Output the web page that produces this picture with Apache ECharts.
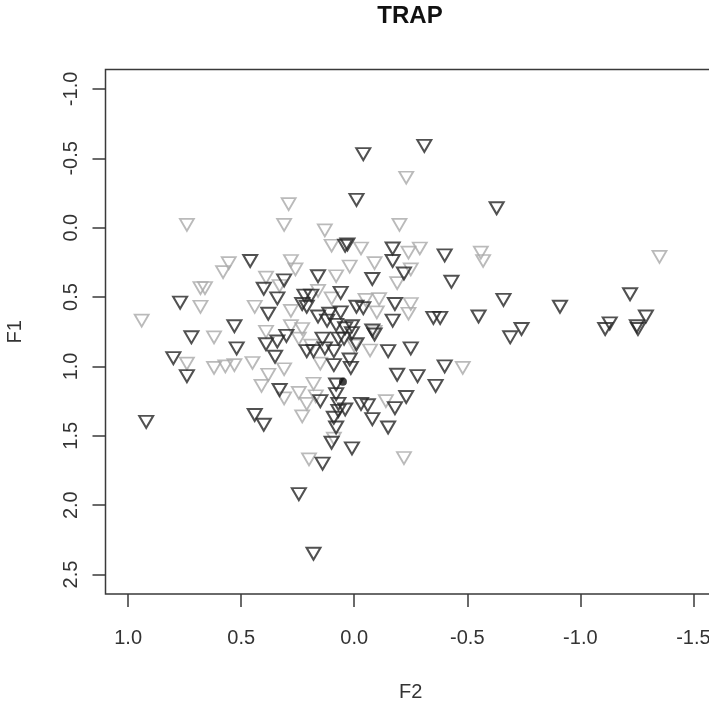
<!DOCTYPE html>
<html>
<head>
<meta charset="utf-8">
<script src="https://cdn.jsdelivr.net/npm/echarts@6/dist/echarts.min.js"></script>
<style>
  html, body { margin: 0; padding: 0; background: #fff; }
  #chart { width: 709px; height: 702px; }
</style>
</head>
<body>
<div id="chart"></div>
<script>
// [F2, F1] pairs
var darkPoints = [
  [-0.31, -0.59], [-0.04, -0.53], [-0.01, -0.20], [-0.63, -0.14], [0.04, 0.13], [0.03, 0.12],
  [-0.17, 0.15], [-0.17, 0.24], [-0.40, 0.20], [0.46, 0.24], [-0.22, 0.33], [0.16, 0.35],
  [0.31, 0.38], [-0.08, 0.37], [-0.43, 0.39], [0.40, 0.44], [0.06, 0.47], [0.34, 0.51],
  [0.22, 0.49], [0.19, 0.49], [-0.18, 0.55], [-0.66, 0.52], [-0.91, 0.57], [-1.22, 0.48],
  [0.77, 0.54], [0.23, 0.55], [0.21, 0.57], [0.38, 0.62], [0.16, 0.64], [0.11, 0.62],
  [0.06, 0.61], [-0.01, 0.57], [-0.04, 0.58], [-0.17, 0.67], [-0.35, 0.65], [-0.38, 0.65],
  [-0.55, 0.64], [-1.13, 0.69], [-1.11, 0.73], [-1.29, 0.64], [-1.25, 0.71], [-1.255, 0.73],
  [-0.74, 0.73], [-0.69, 0.79], [0.53, 0.71], [0.72, 0.79], [0.12, 0.67], [0.08, 0.70],
  [0.01, 0.71], [-0.08, 0.74], [0.04, 0.725], [0.30, 0.78], [0.34, 0.82], [0.39, 0.84],
  [0.52, 0.87], [0.14, 0.80], [0.07, 0.80], [0.01, 0.76], [-0.01, 0.84], [0.21, 0.89],
  [0.18, 0.89], [0.13, 0.87], [0.09, 0.89], [-0.15, 0.89], [-0.25, 0.87], [0.80, 0.94],
  [0.74, 1.07], [0.35, 0.93], [0.09, 0.99], [0.02, 0.95], [0.015, 1.01], [-0.19, 1.06],
  [-0.28, 1.07], [-0.40, 1.00], [-0.36, 1.14], [0.08, 1.13], [0.33, 1.17], [0.08, 1.20],
  [0.15, 1.25], [0.07, 1.27], [0.07, 1.32], [0.04, 1.31], [-0.03, 1.27], [-0.06, 1.28],
  [-0.18, 1.30], [-0.23, 1.22], [-0.08, 1.38], [-0.15, 1.44], [0.09, 1.37], [0.08, 1.44],
  [0.44, 1.35], [0.40, 1.42], [0.92, 1.40], [0.10, 1.55], [0.01, 1.59], [0.14, 1.70],
  [0.245, 1.92], [0.18, 2.35], [-0.09, 0.77], [0.045, 0.80]
];
var grayPoints = [
  [-0.23, -0.36], [0.29, -0.17], [0.31, -0.02], [0.74, -0.02], [0.13, 0.02], [-0.20, -0.02],
  [-1.35, 0.21], [0.10, 0.13], [-0.03, 0.15], [-0.24, 0.18], [-0.29, 0.15], [-0.56, 0.18],
  [-0.57, 0.24], [0.555, 0.255], [0.58, 0.32], [0.28, 0.24], [0.26, 0.30], [-0.09, 0.255],
  [0.02, 0.28], [-0.25, 0.30], [0.08, 0.35], [0.39, 0.36], [-0.19, 0.40], [0.68, 0.435],
  [0.66, 0.435], [0.33, 0.42], [0.16, 0.455], [0.10, 0.51], [-0.05, 0.52], [-0.11, 0.515],
  [-0.25, 0.55], [0.68, 0.57], [0.44, 0.57], [0.28, 0.60], [-0.10, 0.61], [-0.24, 0.62],
  [0.94, 0.67], [0.62, 0.79], [0.39, 0.75], [0.28, 0.71], [0.23, 0.73], [-0.09, 0.75],
  [0.245, 0.80], [0.19, 0.85], [-0.07, 0.885], [0.74, 0.98], [0.62, 1.01], [0.57, 1.00],
  [0.53, 0.99], [0.45, 0.975], [0.31, 1.02], [0.38, 1.06], [0.15, 0.98], [-0.48, 1.01],
  [0.41, 1.14], [0.245, 1.19], [0.18, 1.125], [0.31, 1.23], [0.17, 1.215], [0.21, 1.27],
  [-0.14, 1.25], [0.23, 1.36], [0.09, 1.52], [0.20, 1.67], [-0.22, 1.66], [0.0, 0.85]
];
var centroid = [[0.05, 1.11]];
var xTicks = [1.0, 0.5, 0.0, -0.5, -1.0, -1.5];
var yTicks = [-1.0, -0.5, 0.0, 0.5, 1.0, 1.5, 2.0, 2.5];

var myChart = echarts.init(document.getElementById('chart'));
var fontName = 'Liberation Sans';
var lineColor = '#3a3a3a';

var option = {
    backgroundColor: '#fff',
    animation: false,
    graphic: [
        {
            type: 'text',
            x: 410,
            y: 16,
            style: {
                text: 'TRAP',
                fontFamily: fontName,
                fontSize: 24,
                fontWeight: 'bold',
                fill: '#111',
                align: 'center',
                verticalAlign: 'middle'
            }
        }
    ],
    // plot box runs past the right edge of the picture (it was cropped)
    grid: {
        left: 105.5,
        top: 69.5,
        width: 610.5,
        height: 524.5,
        outerBoundsMode: 'none',
        containLabel: false,
        show: true,
        borderColor: lineColor,
        borderWidth: 1.5
    },
    xAxis: {
        type: 'value',
        inverse: true,   // R plot had xlim reversed
        min: -1.6,
        max: 1.1,
        name: 'F2',
        nameLocation: 'middle',
        nameGap: 88,
        nameTextStyle: {fontFamily: fontName, fontSize: 20, color: '#333'},
        axisLine: {show: false, onZero: false},
        splitLine: {show: false},
        axisTick: {
            show: true,
            inside: false,
            length: 13,
            customValues: xTicks,
            lineStyle: {color: lineColor, width: 1.5}
        },
        axisLabel: {
            customValues: xTicks,
            margin: 34,
            fontFamily: fontName,
            fontSize: 20,
            color: '#333',
            formatter: function (v) { return v.toFixed(1); }
        }
    },
    yAxis: {
        type: 'value',
        inverse: true,
        min: -1.14,
        max: 2.64,
        name: 'F1',
        nameLocation: 'middle',
        nameGap: 80,
        nameRotate: 90,
        nameTextStyle: {fontFamily: fontName, fontSize: 20, color: '#333'},
        axisLine: {show: false, onZero: false},
        splitLine: {show: false},
        axisTick: {
            show: true,
            inside: false,
            length: 13,
            customValues: yTicks,
            lineStyle: {color: lineColor, width: 1.5}
        },
        axisLabel: {
            customValues: yTicks,
            rotate: 90,
            margin: 24,
            fontFamily: fontName,
            fontSize: 20,
            color: '#333',
            formatter: function (v) { return v.toFixed(1); }
        }
    },
    series: [
        {
            name: 'gray',
            type: 'scatter',
            data: grayPoints,
            symbol: 'triangle',
            symbolRotate: 180,
            symbolSize: [14, 12],
            itemStyle: {
                color: 'rgba(0,0,0,0)',
                borderColor: '#a9a9a9',
                borderWidth: 1.8
            }
        },
        {
            name: 'dark',
            type: 'scatter',
            data: darkPoints,
            symbol: 'triangle',
            symbolRotate: 180,
            symbolSize: [14, 12],
            itemStyle: {
                color: 'rgba(0,0,0,0)',
                borderColor: '#262626',
                borderWidth: 2
            }
        },
        {
            name: 'centre',
            type: 'scatter',
            data: centroid,
            symbol: 'circle',
            symbolSize: 8,
            itemStyle: {color: '#111'}
        }
    ]
};
myChart.setOption(option);
</script>
</body>
</html>
